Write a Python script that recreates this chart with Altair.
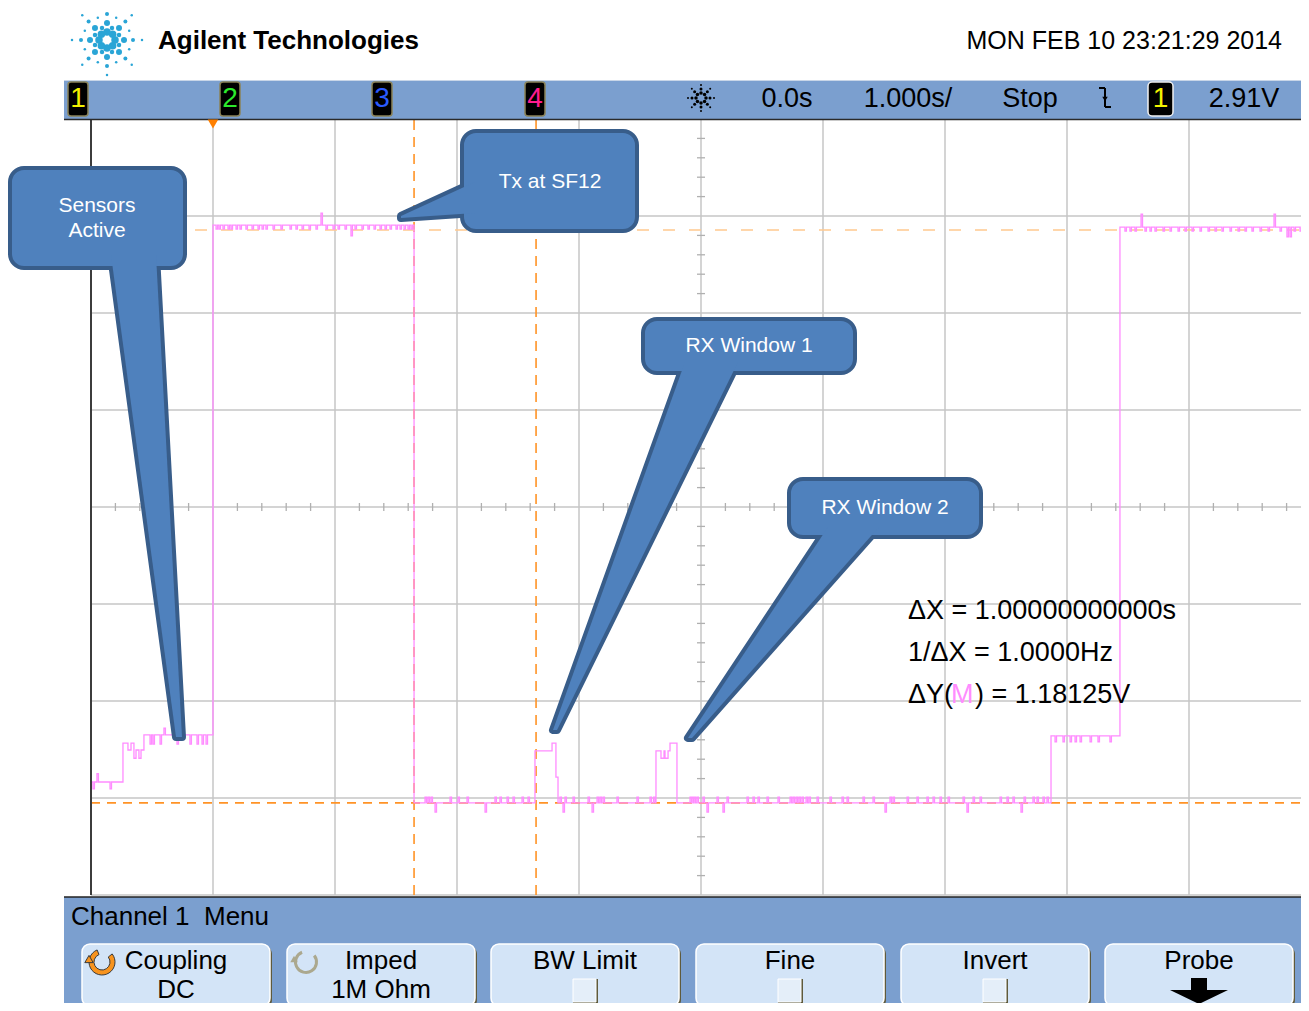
import math
import altair as alt
import pandas as pd

# ===================== DATA =====================
# Channel-1 trace as held steps: time [s] -> level [V] (held until next step)
step_t = [-1.000, -0.738, -0.697, -0.672, -0.648, -0.631, -0.607, -0.590, -0.566,
          0.000, 1.648, 2.639, 2.779, 2.811, 2.828, 3.631, 3.672, 3.697, 3.705,
          3.730, 3.746, 3.803, 6.869, 7.434, 9.000]
step_v = [2.433, 2.513, 2.499, 2.513, 2.482, 2.499, 2.482, 2.499, 2.530,
          3.581, 2.390, 2.497, 2.513, 2.443, 2.390, 2.497, 2.482, 2.497, 2.482,
          2.497, 2.513, 2.390, 2.528, 3.577, 3.577]

# short glitches on the trace: (time [s], level [V])
glitches_start = [(-0.984, 2.419), (-0.951, 2.450), (-0.844, 2.419)]
glitches_sensors = [(-0.516, 2.511), (-0.492, 2.511), (-0.434, 2.511), (-0.402, 2.544),
                    (-0.295, 2.511), (-0.189, 2.511), (-0.131, 2.511), (-0.090, 2.511),
                    (-0.057, 2.511)]
glitches_tx = [(0.025, 3.573), (0.049, 3.573), (0.082, 3.573), (0.123, 3.573), (0.148, 3.573),
               (0.189, 3.573), (0.221, 3.573), (0.270, 3.573), (0.320, 3.573), (0.369, 3.573),
               (0.402, 3.573), (0.434, 3.573), (0.492, 3.573), (0.557, 3.573), (0.631, 3.573),
               (0.680, 3.573), (0.730, 3.573), (0.787, 3.573), (0.844, 3.573), (0.885, 3.606),
               (0.926, 3.573), (0.984, 3.573), (1.025, 3.573), (1.082, 3.573), (1.131, 3.559),
               (1.164, 3.573), (1.221, 3.573), (1.270, 3.573), (1.320, 3.573), (1.369, 3.573),
               (1.410, 3.573), (1.451, 3.573), (1.500, 3.573), (1.533, 3.573), (1.566, 3.573),
               (1.598, 3.573), (1.623, 3.573)]
glitches_low1 = [(1.738, 2.402), (1.762, 2.402), (1.787, 2.402), (1.820, 2.371), (1.943, 2.402),
                 (2.008, 2.402), (2.082, 2.402), (2.230, 2.371), (2.311, 2.402), (2.352, 2.402),
                 (2.410, 2.402), (2.459, 2.402), (2.533, 2.402), (2.582, 2.402)]
glitches_low2 = [(2.844, 2.402), (2.869, 2.371), (2.885, 2.402), (2.951, 2.402), (3.074, 2.402),
                 (3.107, 2.371), (3.148, 2.402), (3.172, 2.402), (3.197, 2.402), (3.311, 2.402),
                 (3.475, 2.402), (3.582, 2.402), (3.611, 2.402)]
glitches_low3 = [(3.910, 2.402), (3.926, 2.402), (3.943, 2.402), (3.967, 2.402), (4.016, 2.402),
                 (4.049, 2.371), (4.131, 2.402), (4.180, 2.371), (4.213, 2.402), (4.377, 2.402),
                 (4.426, 2.402), (4.467, 2.402), (4.541, 2.402), (4.631, 2.402), (4.730, 2.402),
                 (4.754, 2.402), (4.779, 2.402), (4.803, 2.402), (4.828, 2.402), (4.861, 2.402),
                 (4.885, 2.402), (4.951, 2.402), (5.057, 2.402), (5.156, 2.402), (5.197, 2.402),
                 (5.328, 2.402), (5.410, 2.402), (5.508, 2.371), (5.549, 2.402), (5.574, 2.402),
                 (5.689, 2.402), (5.770, 2.402), (5.852, 2.402), (5.902, 2.402), (5.959, 2.402),
                 (6.025, 2.402), (6.148, 2.402), (6.180, 2.371), (6.230, 2.402), (6.287, 2.402),
                 (6.451, 2.402), (6.508, 2.402), (6.557, 2.402), (6.623, 2.371), (6.648, 2.402),
                 (6.721, 2.402), (6.754, 2.402), (6.803, 2.402), (6.836, 2.402)]
glitches_mid = [(6.902, 2.516), (6.967, 2.516), (7.025, 2.516), (7.066, 2.516), (7.107, 2.516),
                (7.189, 2.516), (7.254, 2.516), (7.352, 2.516)]
glitches_high2 = [(7.475, 3.569), (7.516, 3.569), (7.557, 3.569), (7.607, 3.604), (7.639, 3.569),
                  (7.680, 3.569), (7.721, 3.569), (7.787, 3.569), (7.844, 3.569), (7.910, 3.569),
                  (7.967, 3.569), (8.025, 3.569), (8.090, 3.569), (8.156, 3.569), (8.213, 3.569),
                  (8.270, 3.569), (8.336, 3.569), (8.402, 3.569), (8.459, 3.569), (8.516, 3.569),
                  (8.582, 3.569), (8.648, 3.569), (8.697, 3.604), (8.746, 3.569), (8.803, 3.557),
                  (8.828, 3.557), (8.861, 3.569), (8.910, 3.569)]

# cursors
cursor_x = [1.648, 2.648]          # s   (dX = 1.000 s)
cursor_y = [2.390, 3.57125]        # V   (dY = 1.18125 V)

# graticule
grid_t = [-1, 0, 1, 2, 3, 4, 5, 6, 7, 8, 9]
grid_v = [2.2, 2.4, 2.6, 2.8, 3.0, 3.2, 3.4, 3.6, 3.8]

# texts
header_title = "Agilent Technologies"
header_date = "MON FEB 10 23:21:29 2014"
channel_labels = ["1", "2", "3", "4", "1"]
channel_colors = ["#F2F200", "#2CEB2C", "#2B5BFF", "#FF1C8E", "#F2F200"]
status_labels = ["0.0s", "1.000s/", "Stop", "2.91V"]
menu_title = "Channel 1\u00a0 Menu"
button_line1 = ["Coupling", "Imped", "BW Limit", "Fine", "Invert", "Probe"]
button_line2 = ["DC", "1M Ohm", "", "", "", ""]
button_checkbox = [False, False, True, True, True, False]
meas_lines = ["\u0394X = 1.00000000000s", "1/\u0394X = 1.0000Hz"]
callout_text = [["Sensors", "Active"], ["Tx at SF12"], ["RX Window 1"], ["RX Window 2"]]

# ===================== LAYOUT / STYLE =====================
W, H = 1293, 995
REF_X0, REF_X1, REF_Y0, REF_Y1 = 8, 8 + W, 8, 8 + H   # screenshot window covered

S_PER_DIV, V_PER_DIV = 1.0, 0.2
PX_XDIV, PX_YDIV = 122, 97
TRIG_PX, CENTER_PY, CENTER_V = 213, 507, 3.0


def t_at(px):
    return (px - TRIG_PX) / PX_XDIV * S_PER_DIV


def v_at(py):
    return CENTER_V + (CENTER_PY - py) / PX_YDIV * V_PER_DIV


TS = alt.Scale(domain=[t_at(REF_X0), t_at(REF_X1)], nice=False, zero=False)
VS = alt.Scale(domain=[v_at(REF_Y1), v_at(REF_Y0)], nice=False, zero=False)
PXS = alt.Scale(domain=[REF_X0, REF_X1], nice=False, zero=False)
PYS = alt.Scale(domain=[REF_Y0, REF_Y1], nice=False, zero=False, reverse=True)

NARROW = "Liberation Sans, Arial, sans-serif"
SANS = "Liberation Sans, Arial, sans-serif"
BAR = "#7B9FCF"
BTN = "#D3E4F7"
GRID = "#C6C6C6"
TRACE = "#FF8CFF"
CUR = "#FF9326"
CUR_LIGHT = "#FFC98F"
CALL_FILL = "#4F81BD"
CALL_EDGE = "#385D8A"

GT, GB = grid_v[0], grid_v[-1]
GL, GR = grid_t[0], grid_t[-1]

# ---------- build trace ----------
glitches = (glitches_start + glitches_sensors + glitches_tx + glitches_low1 +
            glitches_low2 + glitches_low3 + glitches_mid + glitches_high2)
GLITCH_W = 0.012


def base_level(t):
    lvl = step_v[0]
    for bt, bv in zip(step_t, step_v):
        if bt <= t:
            lvl = bv
    return lvl


events = list(zip(step_t, step_v))
for gt, gv in glitches:
    events.append((gt, gv))
    events.append((gt + GLITCH_W, base_level(gt)))
events.sort(key=lambda e: e[0])
trace_df = pd.DataFrame({"t": [e[0] for e in events], "v": [e[1] for e in events],
                         "i": list(range(len(events)))})


def D(d):
    return alt.Chart(pd.DataFrame(d))


def drule(d, **mk):
    enc = dict(x=alt.X("x:Q", scale=TS, axis=None), y=alt.Y("y:Q", scale=VS, axis=None))
    if "x2" in d:
        enc["x2"] = "x2:Q"
    if "y2" in d:
        enc["y2"] = "y2:Q"
    return D(d).mark_rule(**mk).encode(**enc)


# ---------- data layer ----------
data_layers = []
data_layers.append(drule({"x": grid_t[1:], "y": [GT] * 10, "y2": [GB] * 10},
                         color=GRID, strokeWidth=1.5))
data_layers.append(drule({"y": grid_v, "x": [GL] * 9, "x2": [GR] * 9},
                         color=GRID, strokeWidth=1.5))
# minor ticks on centre cross
ctr_t, ctr_v = grid_t[5], grid_v[4]
minor_v = [GT + k * V_PER_DIV / 5 for k in range(41) if k % 5]
minor_t = [GL + k * S_PER_DIV / 5 for k in range(51) if k % 5]
half_t = 4 / PX_XDIV * S_PER_DIV
half_v = 4 / PX_YDIV * V_PER_DIV
data_layers.append(drule({"y": minor_v, "x": [ctr_t - half_t] * len(minor_v),
                          "x2": [ctr_t + half_t] * len(minor_v)}, color="#B0B0B0", strokeWidth=1.3))
data_layers.append(drule({"x": minor_t, "y": [ctr_v - half_v] * len(minor_t),
                          "y2": [ctr_v + half_v] * len(minor_t)}, color="#B0B0B0", strokeWidth=1.3))
# cursors
data_layers.append(drule({"x": cursor_x, "y": [GT] * 2, "y2": [GB] * 2},
                         color=CUR, strokeWidth=1.6, strokeDash=[10, 7]))
data_layers.append(drule({"y": [cursor_y[0]], "x": [GL], "x2": [GR]},
                         color=CUR, strokeWidth=1.6, strokeDash=[9, 7]))
data_layers.append(drule({"y": [cursor_y[1]], "x": [GL], "x2": [GR]},
                         color=CUR_LIGHT, strokeWidth=1.4, strokeDash=[12, 14]))
# trace
data_layers.append(alt.Chart(trace_df).mark_line(
    interpolate="step-after", color=TRACE, strokeWidth=1.3).encode(
    x=alt.X("t:Q", scale=TS, axis=None), y=alt.Y("v:Q", scale=VS, axis=None), order="i:Q"))
# left edge of the graticule
data_layers.append(drule({"x": [GL], "y": [GT], "y2": [GB]}, color="#3C3C3C", strokeWidth=2))


# ---------- UI layer (screen pixel coordinates) ----------
def pxy(enc):
    enc["x"] = alt.X("x:Q", scale=PXS, axis=None)
    enc["y"] = alt.Y("y:Q", scale=PYS, axis=None)
    return enc


def prect(d, **mk):
    return D(d).mark_rect(**mk).encode(**pxy({"x2": "x2:Q", "y2": "y2:Q"}))


def prule(d, **mk):
    enc = {}
    if "x2" in d:
        enc["x2"] = "x2:Q"
    if "y2" in d:
        enc["y2"] = "y2:Q"
    return D(d).mark_rule(**mk).encode(**pxy(enc))


def ptext(d, **mk):
    enc = {"text": "s:N"}
    if "c" in d:
        enc["color"] = alt.Color("c:N", scale=None)
    return D(d).mark_text(baseline="middle", **mk).encode(**pxy(enc))


def ppoint(d, **mk):
    enc = {}
    if "size" in d:
        enc["size"] = alt.Size("size:Q", scale=None)
    return D(d).mark_point(**mk).encode(**pxy(enc))


ui = []
RIGHT = REF_X1 + 10
# status bar
ui.append(prect({"x": [64], "x2": [RIGHT], "y": [80], "y2": [119.5]}, color=BAR))
ui.append(prule({"x": [64], "x2": [RIGHT], "y": [80.5]}, color="#C9D6E8", strokeWidth=1))
ui.append(prule({"x": [64], "x2": [RIGHT], "y": [119.5]}, color="#2A2A2A", strokeWidth=1.5))
# menu bar
ui.append(prect({"x": [64], "x2": [RIGHT], "y": [897], "y2": [REF_Y1 + 10]}, color=BAR))
ui.append(prule({"x": [64], "x2": [RIGHT], "y": [897]}, color="#222222", strokeWidth=1.5))

# trigger marker
ui.append(ppoint({"x": [213], "y": [124], "size": [110]}, shape="triangle-down",
                 filled=True, color="#FF8000", opacity=1))

# channel boxes
ch_x = [68, 220, 372, 525, 1148]
ch_w = [20, 20, 20, 20, 25]
ui.append(prect({"x": ch_x[:4], "x2": [a + b for a, b in zip(ch_x[:4], ch_w[:4])],
                 "y": [82] * 4, "y2": [116] * 4},
                color="black", stroke="#8A8258", strokeWidth=1.5, cornerRadius=3))
ui.append(prect({"x": [ch_x[4]], "x2": [ch_x[4] + ch_w[4]], "y": [82], "y2": [116]},
                color="black", stroke="#F2F2F2", strokeWidth=1.5, cornerRadius=4))
ui.append(ptext({"x": [a + b / 2 for a, b in zip(ch_x, ch_w)], "y": [99] * 5,
                 "s": channel_labels, "c": channel_colors},
                font=NARROW, fontSize=28, align="center"))
ui.append(ptext({"x": [787, 908, 1030, 1244], "y": [99] * 4, "s": status_labels},
                font=NARROW, fontSize=27, align="center", color="black"))
# falling-edge trigger glyph
ui.append(prule({"x": [1099, 1105, 1105], "x2": [1105, 1105, 1111],
                 "y": [88, 88, 107], "y2": [88, 107, 107]}, color="black", strokeWidth=2))
ui.append(ppoint({"x": [1105], "y": [99], "size": [30]}, shape="triangle-down",
                 filled=True, color="black", opacity=1))


# starburst icons (logo and acquisition icon)
def burst(cx, cy, radii, diam, color, inner=None):
    xs, ys, ss = [], [], []
    for ang in range(0, 360, 45):
        for r, d in zip(radii, diam):
            xs.append(cx + r * math.cos(math.radians(ang)))
            ys.append(cy + r * math.sin(math.radians(ang)))
            ss.append(d * d)
    if inner:
        for ang in range(0, 360, 45):
            for r, d in zip(*inner):
                xs.append(cx + r * math.cos(math.radians(ang + 22.5)))
                ys.append(cy + r * math.sin(math.radians(ang + 22.5)))
                ss.append(d * d)
    return D({"x": xs, "y": ys, "size": ss}).mark_circle(color=color, opacity=1).encode(
        **pxy({"size": alt.Size("size:Q", scale=None)}))


ui.append(burst(107, 40, [8, 17, 26, 35], [7.5, 6, 4, 2.5], "#2AA5D6",
                inner=([13, 24], [4.5, 2.5])))
ui.append(burst(701, 98, [5, 9, 13], [3.5, 3, 2], "black"))

# header texts
ui.append(ptext({"x": [158], "y": [41], "s": [header_title]},
                font=NARROW, fontSize=26, fontWeight="bold", align="left", color="black"))
ui.append(ptext({"x": [1282], "y": [41], "s": [header_date]},
                font=NARROW, fontSize=25, align="right", color="black"))

# measurement readout
ui.append(ptext({"x": [908, 908], "y": [611, 653], "s": meas_lines},
                font=SANS, fontSize=27, align="left", color="black"))
ui.append(ptext({"x": [908, 951, 975], "y": [695] * 3, "s": ["\u0394Y(", "M", ") = 1.18125V"],
                 "c": ["black", TRACE, "black"]}, font=SANS, fontSize=27, align="left"))

# menu
ui.append(ptext({"x": [71], "y": [917], "s": [menu_title]},
                font=NARROW, fontSize=26, align="left", color="black"))
btn_x = [82, 287, 491, 696, 901, 1105]
BW_, BY0, BY1 = 188, 944, 1006
ui.append(prect({"x": [x + 2 for x in btn_x], "x2": [x + BW_ + 2 for x in btn_x],
                 "y": [BY0 + 2] * 6, "y2": [BY1 + 2] * 6}, color="#5F5A3C", cornerRadius=8))
ui.append(prect({"x": btn_x, "x2": [x + BW_ for x in btn_x], "y": [BY0] * 6, "y2": [BY1] * 6},
                color=BTN, stroke="#FFFFFF", strokeWidth=1.5, cornerRadius=8))
btn_c = [x + BW_ / 2 for x in btn_x]
ui.append(ptext({"x": btn_c, "y": [961] * 6, "s": button_line1},
                font=NARROW, fontSize=26, align="center", color="black"))
ui.append(ptext({"x": btn_c, "y": [990] * 6, "s": button_line2},
                font=NARROW, fontSize=26, align="center", color="black"))
cb = [c for c, f in zip(btn_c, button_checkbox) if f]
ui.append(prect({"x": [c - 12 for c in cb], "x2": [c + 13 for c in cb],
                 "y": [979] * 3, "y2": [1004] * 3}, color="#5F5A3C"))
ui.append(prect({"x": [c - 12 for c in cb], "x2": [c + 11 for c in cb],
                 "y": [979] * 3, "y2": [1002] * 3}, color="#E4EEF9", stroke="#FFFFFF", strokeWidth=1))
# probe arrow
pc = btn_c[5]
ui.append(prect({"x": [pc - 8], "x2": [pc + 8], "y": [978], "y2": [991]}, color="black"))
ui.append(D({"x": [pc - 29, pc, pc + 29], "y": [990, 990, 990], "y2": [990, 1004, 990]})
          .mark_area(orient="vertical", color="black").encode(**pxy({"y2": "y2:Q"})))
# rotary icons
ui.append(D({"x": [102], "y": [962]}).mark_arc(radius=13, radius2=8, theta=0.9, theta2=5.9,
                                                  color="#F7931E", stroke="#3A3A3A",
                                                  strokeWidth=1).encode(**pxy({})))
ui.append(ppoint({"x": [89], "y": [959], "size": [70]}, shape="triangle-up", filled=True,
                 color="#F7931E", stroke="#3A3A3A", strokeWidth=1, opacity=1))
ui.append(D({"x": [306], "y": [962]}).mark_arc(radius=12, radius2=9, theta=0.9, theta2=5.9,
                                                  color="#ABA88E").encode(**pxy({})))
ui.append(ppoint({"x": [294], "y": [959], "size": [55]}, shape="triangle-up", filled=True,
                 color="#ABA88E", opacity=1))

# ---------- callouts ----------
call_rects = {"x": [10, 462, 643, 789], "x2": [185, 637, 855, 981],
              "y": [168, 131, 319, 479], "y2": [268, 231, 373, 537]}
ptr_h = [  # horizontal pointers: rows (y, x, x2)
    {"y": [255, 737], "x": [111, 176], "x2": [156, 182]},
    {"y": [362, 730], "x": [685, 553], "x2": [738, 557]},
    {"y": [527, 738], "x": [828, 688], "x2": [879, 692]},
]
ptr_v = {"x": [401, 475], "y": [216, 182], "y2": [218, 213]}   # Tx pointer (x, y, y2)


def ptr_layers(**mk):
    out = []
    for p in ptr_h:
        out.append(D(p).mark_area(orient="horizontal", **mk).encode(**pxy({"x2": "x2:Q"})))
    out.append(D(ptr_v).mark_area(orient="vertical", **mk).encode(**pxy({"y2": "y2:Q"})))
    return out


ui += ptr_layers(color=CALL_FILL, stroke=CALL_EDGE, strokeWidth=8, strokeJoin="round")
ui.append(D(call_rects).mark_rect(color=CALL_FILL, stroke=CALL_EDGE, strokeWidth=4,
                                  cornerRadius=14).encode(**pxy({"x2": "x2:Q", "y2": "y2:Q"})))
ui += ptr_layers(color=CALL_FILL)
ui.append(ptext({"x": [97, 97, 550, 749, 885], "y": [206, 231, 182, 346, 508],
                 "s": callout_text[0] + callout_text[1] + callout_text[2] + callout_text[3]},
                font=SANS, fontSize=21, align="center", color="white"))

chart = alt.layer(alt.layer(*data_layers), alt.layer(*ui)).resolve_scale(
    x="independent", y="independent").properties(
    width=W, height=H, padding=0, autosize=alt.AutoSizeParams(type="none"),
    background="white").configure_view(stroke=None)

chart.save("out.html", embed_options={"renderer": "svg", "actions": False})
